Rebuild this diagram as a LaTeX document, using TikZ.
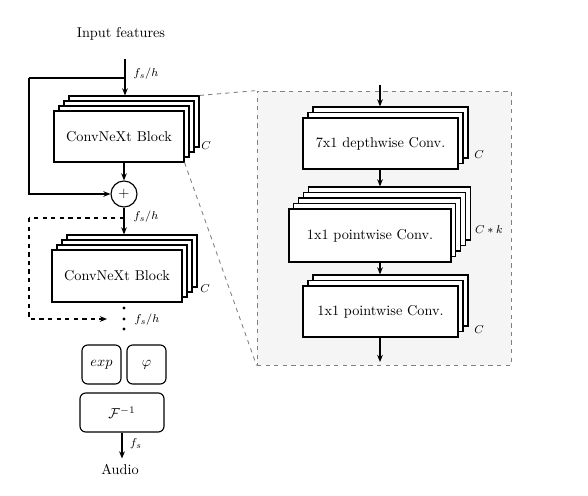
\documentclass[tikz,border=0pt]{standalone}
\usepackage{amsmath}
\usepackage{amssymb}
\usepackage{tikz}
\usetikzlibrary{arrows.meta}
\newcommand{\pxu}{0.7pt}

\begin{document}
\begin{tikzpicture}
    [
    x=\pxu, y=-\pxu,
    line width=0.8pt,
    arr/.style = {-{Stealth[length=5pt,width=4pt]}},
    blk/.style 2 args = {draw,fill=white,inner sep=0pt,minimum width=#1*\pxu,minimum height=#2*\pxu},
    rbox/.style 2 args = {draw,rounded corners=4pt,inner sep=0pt,minimum width=#1*\pxu,minimum height=#2*\pxu},
    lbl/.style = {font=\footnotesize,inner sep=1pt},
    dot/.style = {minimum width=2.4pt,inner sep=0pt,line width=0pt,fill,circle,black},
    panel/.style = {draw=gray,dashed,fill=gray!8,inner sep=0pt,line width=0.6pt},
    zoomline/.style = {draw=gray,dashed,line width=0.6pt}
    ]
\useasboundingbox (0,0) rectangle (588,496);

% left column
\node (inp) at (121,34) {Input features};
\coordinate (in1) at (125,59);
\coordinate (skip) at (125,78);
\coordinate (skipL) at (29,78);

\foreach \k in {3,2,1}
    \node[blk={130}{51}] (cnx1-\k) at (119+5*\k,136.5-5*\k) {};
\node[blk={130}{51}] (cnx1) at (119,136.5) {ConvNeXt Block};
\node[lbl] at (206,146) {$C$};

\node[draw,circle,inner sep=0pt,minimum size=26*\pxu,fill=white] (add) at (124,194) {$+$};

\draw[arr] (in1) -- (in1 |- cnx1-3.north);
\node[lbl] at (146,74) {$f_s/h$};
\draw (skip) -- (skipL);
\draw[arr] (skipL) |- (add);
\draw[arr] (cnx1.south -| add) -- (add);

\coordinate (rep) at (124,218);
\coordinate (repL) at (29,218);
\coordinate (repE) at (107,319);

\foreach \k in {3,2,1}
    \node[blk={130}{52}] (cnx2-\k) at (117+5*\k,276-5*\k) {};
\node[blk={130}{52}] (cnx2) at (117,276) {ConvNeXt Block};
\node[lbl] at (205,289) {$C$};

\draw[arr] (add) -- (add |- cnx2-3.north);
\node[lbl] at (146,217) {$f_s/h$};
\draw[dashed] (rep) -- (repL);
\draw[dashed,arr] (repL) |- (repE);

\node[dot] (d1) at (124,308) {};
\node[dot] (d2) at (124,319) {};
\node[dot] (d3) at (124,329) {};
\node[lbl] at (147,320) {$f_s/h$};

\node[rbox={39}{39}] (expo) at (101.5,364.5) {$exp$};
\node[rbox={39}{39}] (phase) at (146.5,364.5) {$\varphi$};
\node[rbox={84}{39}] (ifft) at (122,412.5) {$\mathcal{F}^{-1}$};

\node (audio) at (120,469) {Audio};
\draw[arr] (ifft) -- (ifft |- audio.north);
\node[lbl] at (136,444) {$f_s$};

% zoomed block
\node[panel,minimum width=254*\pxu,minimum height=274*\pxu] (panel) at (384,228) {};
\draw[zoomline] (cnx1-3.north east) -- (panel.north west);
\draw[zoomline] (cnx1.south east) -- (panel.south west);

\coordinate (top) at (380,85);
\coordinate (bot) at (380,362);

\foreach \k in {2,1}
    \node[blk={155}{51}] (dw-\k) at (380.5+5*\k,143.5-5.5*\k) {};
\node[blk={155}{51}] (dw) at (380.5,143.5) {7x1 depthwise Conv.};
\node[lbl] at (479,155) {$C$};

\foreach \k in {4,3,2,1}
    \node[blk={162}{53}] (pw1-\k) at (370+4.8*\k,235.5-5.5*\k) {};
\node[blk={162}{53}] (pw1) at (370,235.5) {1x1 pointwise Conv.};
\node[lbl] at (489,230) {$C*k$};

\foreach \k in {2,1}
    \node[blk={155}{51}] (pw2-\k) at (380.5+5*\k,311.5-5.5*\k) {};
\node[blk={155}{51}] (pw2) at (380.5,311.5) {1x1 pointwise Conv.};
\node[lbl] at (479,330) {$C$};

\draw[arr] (top) -- (top |- dw-2.north);
\draw[arr] (dw.south -| top) -- (top |- pw1-4.north);
\draw[arr] (pw1.south -| top) -- (top |- pw2-2.north);
\draw[arr] (pw2.south -| top) -- (bot);

\end{tikzpicture}
\end{document}
